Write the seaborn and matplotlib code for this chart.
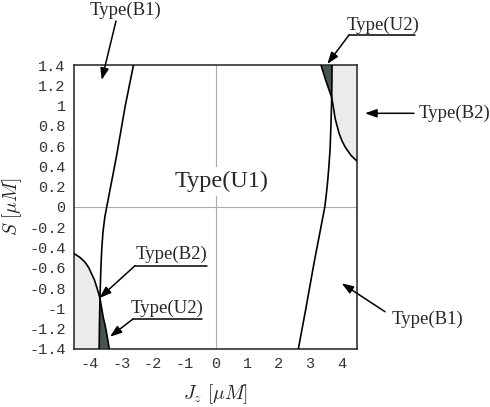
import matplotlib

matplotlib.use("Agg")
import matplotlib.pyplot as plt
import numpy as np
import seaborn as sns
from matplotlib.lines import Line2D

# phase boundaries, as (J_z, S) points
left_line_jz = [-2.61, -2.87, -3.15, -3.46, -3.52, -3.58, -3.62, -3.645, -3.665, -3.675, -3.69, -3.70]
left_line_s = [1.40, 1.00, 0.50, 0.00, -0.10, -0.25, -0.43, -0.60, -0.80, -0.91, -1.15, -1.40]
right_line_jz = [2.63, 2.87, 3.13, 3.47, 3.51, 3.56, 3.60, 3.64, 3.67, 3.69, 3.697, 3.70]
right_line_s = [-1.40, -1.00, -0.55, 0.00, 0.10, 0.25, 0.40, 0.58, 0.85, 1.08, 1.25, 1.40]
left_arc_jz = [-4.50, -4.30, -4.15, -4.03, -3.94, -3.85, -3.78, -3.72, -3.67, -3.62, -3.57, -3.51, -3.46, -3.38]
left_arc_s = [-0.46, -0.50, -0.545, -0.60, -0.66, -0.72, -0.79, -0.85, -0.91, -1.00, -1.09, -1.17, -1.25, -1.40]
right_arc_jz = [3.35, 3.42, 3.50, 3.60, 3.69, 3.75, 3.80, 3.87, 3.93, 4.02, 4.12, 4.30, 4.50]
right_arc_s = [1.40, 1.33, 1.25, 1.16, 1.08, 0.97, 0.87, 0.79, 0.72, 0.65, 0.59, 0.51, 0.45]

# index of the point where line and arc cross
left_line_cross, left_arc_cross = 9, 8
right_line_cross, right_arc_cross = 9, 4

x_ticks = [-4, -3, -2, -1, 0, 1, 2, 3, 4]
y_ticks = [-1.4, -1.2, -1.0, -0.8, -0.6, -0.4, -0.2, 0.0, 0.2, 0.4, 0.6, 0.8, 1.0, 1.2, 1.4]
x_lim = (-4.5, 4.5)
y_lim = (-1.4, 1.4)

LIGHT = "#e9ebec"
DARK = "#475453"
SERIF = "Liberation Serif"

sns.set_style("white")
plt.rcParams["font.family"] = "Liberation Mono"
plt.rcParams["mathtext.fontset"] = "cm"
plt.rcParams["axes.unicode_minus"] = False

fig, ax = plt.subplots(figsize=(4.9, 4.07), dpi=100)
fig.subplots_adjust(left=0.151, right=0.729, bottom=0.143, top=0.840)


def pts(jz, s):
    return list(zip(jz, s))


ll = pts(left_line_jz, left_line_s)
rl = pts(right_line_jz, right_line_s)
la = pts(left_arc_jz, left_arc_s)
ra = pts(right_arc_jz, right_arc_s)

# shaded regions built from the boundary points
bl_light = [(x_lim[0], y_lim[0])] + la[: left_arc_cross + 1] + ll[left_line_cross + 1:]
bl_dark = la[left_arc_cross:] + ll[left_line_cross:][::-1]
tr_light = [(x_lim[1], y_lim[1])] + rl[right_line_cross:][::-1] + ra[right_arc_cross:]
tr_dark = ra[: right_arc_cross + 1] + rl[right_line_cross:]

for poly, col in [(bl_light, LIGHT), (tr_light, LIGHT), (bl_dark, DARK), (tr_dark, DARK)]:
    xs, ys = zip(*poly)
    ax.fill(xs, ys, color=col, lw=0, zorder=1)

ax.axhline(0, color="#a7aeae", lw=0.8, zorder=0)
ax.axvline(0, color="#a7aeae", lw=0.8, zorder=0)

for jz, s in [(left_line_jz, left_line_s), (right_line_jz, right_line_s),
              (left_arc_jz, left_arc_s), (right_arc_jz, right_arc_s)]:
    sns.lineplot(x=jz, y=s, sort=False, estimator=None, color="black",
                 lw=1.2, ax=ax, zorder=3)

ax.set_xlim(*x_lim)
ax.set_ylim(*y_lim)
ax.set_xticks(x_ticks)
ax.set_yticks(y_ticks)
ax.xaxis.set_major_formatter(lambda v, _: f"{round(v, 1) + 0.0:g}")
ax.yaxis.set_major_formatter(lambda v, _: f"{round(v, 1) + 0.0:g}")
ax.tick_params(direction="in", length=8, width=1, color="#777777",
               labelsize=11, labelcolor="#333333", pad=6)
for sp in ax.spines.values():
    sp.set_linewidth(1.1)
    sp.set_color("#222222")

ax.set_xlabel(r"$J_z\ [\mu M]$", fontsize=14, labelpad=8)
ax.set_ylabel(r"$S\ [\mu M]$", fontsize=14, labelpad=4)

ax.text(0.2, 0.25, "Type(U1)", family=SERIF, fontsize=17.5, ha="center", va="center",
        bbox=dict(fc="white", ec="none", pad=3), zorder=2)

H = 407  # figure height in px, labels placed in figure pixels
arrow = dict(arrowstyle="-|>,head_length=0.7,head_width=0.25", color="black",
             lw=1.1, shrinkA=0, shrinkB=0)

# (label, text centre, arrow start, arrow tip, underline span or None), image px
labels = [
    ("Type(B1)", (125, 10), (116, 21), (101.7, 80), None),
    ("Type(U2)", (383, 25), (349, 35), (327.3, 64), (349, 415)),
    ("Type(B2)", (454, 113), (414, 113.3), (365, 113.3), None),
    ("Type(B1)", (427, 319), (385, 311.7), (341.7, 283.3), None),
    ("Type(B2)", (171, 254), (135, 265.7), (99.5, 298), (135, 207)),
    ("Type(U2)", (167, 308), (133, 319), (110, 336.7), (133, 202)),
]
for text, (tx, ty), (sx, sy), (ex, ey), uline in labels:
    fig.text(tx / 490, 1 - ty / H, text, family=SERIF, fontsize=13.5,
             ha="center", va="center")
    ax.annotate("", xy=(ex, H - ey), xycoords="figure pixels",
                xytext=(sx, H - sy), textcoords="figure pixels",
                arrowprops=arrow, annotation_clip=False)
    if uline is not None:
        fig.add_artist(Line2D([uline[0] / 490, uline[1] / 490],
                              [1 - sy / H, 1 - sy / H], color="black", lw=1.1))

fig.savefig("out.png", dpi=100)
plt.close(fig)
